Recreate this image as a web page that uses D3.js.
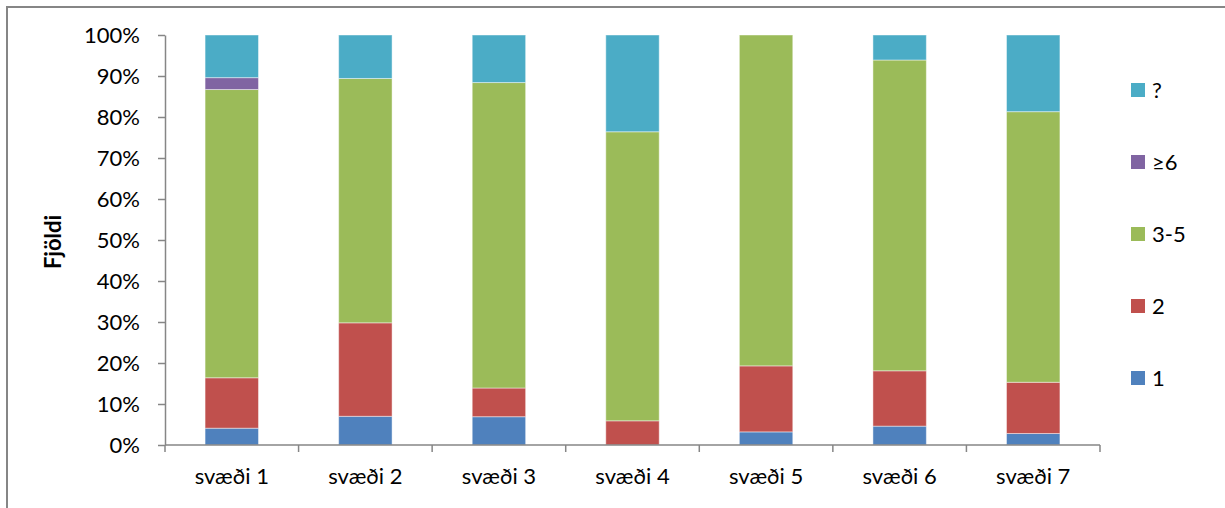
<!DOCTYPE html>
<html>
<head>
<meta charset="utf-8">
<script src="https://cdn.jsdelivr.net/npm/d3@7"></script>
<style>
  html, body { margin: 0; padding: 0; background: #fff; }
  svg { display: block; }
  text { font-family: Lato, "Open Sans", sans-serif; fill: #000; }
</style>
</head>
<body>
<svg id="chart" width="1225" height="508"></svg>
<script>
// Regions on the x axis
const categories = ["svæði 1", "svæði 2", "svæði 3", "svæði 4", "svæði 5", "svæði 6", "svæði 7"];

// Share (%) of each group size per region, stacked bottom to top
const seriesNames = ["1", "2", "3-5", "≥6", "?"];
const s1 = [4.1, 7.0, 6.9, 0.0, 3.2, 4.6, 2.8];
const s2 = [12.3, 22.8, 7.0, 5.9, 16.1, 13.5, 12.5];
const s35 = [70.3, 59.6, 74.5, 70.5, 80.7, 75.8, 66.0];
const s6 = [2.9, 0.0, 0.0, 0.0, 0.0, 0.0, 0.0];
const sQ = [10.4, 10.6, 11.6, 23.6, 0.0, 6.1, 18.7];

const seriesColors = ["#4F81BD", "#C0504D", "#9BBB59", "#8064A2", "#4BACC6"];
const yTicks = [0, 10, 20, 30, 40, 50, 60, 70, 80, 90, 100];

const rows = categories.map((c, i) => ({
  cat: c,
  "1": s1[i], "2": s2[i], "3-5": s35[i], "≥6": s6[i], "?": sQ[i]
}));

const svg = d3.select("#chart");
const axisColor = "#868686";
const fontSize = 22;

// outer chart frame
svg.append("rect")
  .attr("x", 7).attr("y", 7)
  .attr("width", 1400).attr("height", 700)
  .attr("fill", "none")
  .attr("stroke", axisColor)
  .attr("stroke-width", 2);

const plot = { left: 165, right: 1100, top: 35, bottom: 445 };

const x = d3.scaleBand()
  .domain(categories)
  .range([plot.left, plot.right])
  .paddingInner(0.6)
  .paddingOuter(0.3);

const y = d3.scaleLinear().domain([0, 100]).range([plot.bottom, plot.top]);
const color = d3.scaleOrdinal().domain(seriesNames).range(seriesColors);

const stacked = d3.stack().keys(seriesNames)(rows);

// bars
svg.append("g")
  .selectAll("g")
  .data(stacked)
  .join("g")
  .attr("fill", d => color(d.key))
  .selectAll("rect")
  .data(d => d.filter(p => p[1] - p[0] > 0))
  .join("rect")
  .attr("x", d => x(d.data.cat))
  .attr("width", x.bandwidth())
  .attr("y", d => y(d[1]))
  .attr("height", d => y(d[0]) - y(d[1]))
  .attr("stroke", "rgba(255,255,255,0.45)")
  .attr("stroke-width", 1);

// y axis
const yAxis = svg.append("g")
  .attr("transform", `translate(${plot.left},0)`)
  .call(d3.axisLeft(y).tickValues(yTicks).tickFormat(d => d + "%").tickSize(7).tickPadding(18).tickSizeOuter(0));
yAxis.select(".domain").attr("stroke", axisColor).attr("stroke-width", 1.5);
yAxis.selectAll(".tick line").attr("stroke", axisColor).attr("stroke-width", 1.5);
yAxis.selectAll(".tick text").attr("font-size", fontSize).attr("font-family", "Lato, sans-serif").attr("fill", "#000");

// x axis with ticks at the band boundaries
const xAxisG = svg.append("g").attr("transform", `translate(0,${plot.bottom})`);
xAxisG.append("line")
  .attr("x1", plot.left).attr("x2", plot.right)
  .attr("stroke", axisColor).attr("stroke-width", 1.5);
const step = (plot.right - plot.left) / categories.length;
xAxisG.selectAll(".bound")
  .data(d3.range(categories.length + 1))
  .join("line")
  .attr("x1", i => plot.left + i * step)
  .attr("x2", i => plot.left + i * step)
  .attr("y1", 0).attr("y2", 7)
  .attr("stroke", axisColor).attr("stroke-width", 1.5);
xAxisG.selectAll(".lbl")
  .data(categories)
  .join("text")
  .attr("x", d => x(d) + x.bandwidth() / 2)
  .attr("y", 39)
  .attr("text-anchor", "middle")
  .attr("font-size", fontSize)
  .text(d => d);

// y axis title
svg.append("text")
  .attr("transform", "translate(61,242) rotate(-90)")
  .attr("text-anchor", "middle")
  .attr("font-size", fontSize)
  .attr("font-weight", "bold")
  .text("Fjöldi");

// legend, top entry is the last series
const legend = svg.append("g");
const legendOrder = seriesNames.slice().reverse();
const legendY = d3.scalePoint().domain(legendOrder).range([90, 378]);
legendOrder.forEach(k => {
  const cy = legendY(k);
  legend.append("rect")
    .attr("x", 1131).attr("y", cy - 7)
    .attr("width", 14).attr("height", 14)
    .attr("fill", color(k));
  legend.append("text")
    .attr("x", 1152).attr("y", cy + 8)
    .attr("font-size", fontSize)
    .text(k);
});
</script>
</body>
</html>
